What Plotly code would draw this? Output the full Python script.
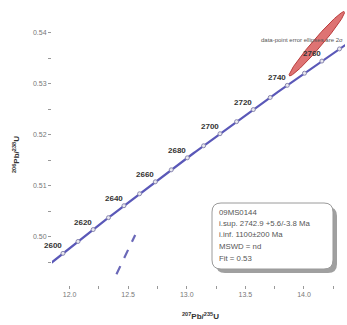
import numpy as np
import plotly.graph_objects as go

# decay constants (1/yr)
L235 = 9.8485e-10
L238 = 1.55125e-10

# concordia age ticks (Ma)
age_labels = [2600, 2620, 2640, 2660, 2680, 2700, 2720, 2740, 2760]
age_marks = [2600, 2610, 2620, 2630, 2640, 2650, 2660, 2670, 2680, 2690,
             2700, 2710, 2720, 2730, 2740, 2750, 2760, 2770]
curve_age_min, curve_age_max = 2585, 2780

# single analysis (2-sigma) error ellipse
ell_x, ell_y = 14.11, 0.5378
ell_sx, ell_sy = 0.237, 0.0063
ell_rho = 0.977

# dashed discordia segment
dash_x = [12.40, 12.56]
dash_y = [0.4927, 0.5004]

# sample summary
sample = "09MS0144"
upper_int = "i.sup. 2742.9 +5.6/-3.8 Ma"
lower_int = "i.inf. 1100±200 Ma"
mswd = "MSWD = nd"
fit = "Fit = 0.53"
note = "data-point error ellipses are 2σ"

x_range = [11.85, 14.35]
y_range = [0.4906, 0.5444]

def conc_x(t):
    return np.exp(L235 * np.asarray(t) * 1e6) - 1

def conc_y(t):
    return np.exp(L238 * np.asarray(t) * 1e6) - 1

t_curve = np.arange(curve_age_min, curve_age_max + 1, 1.0)

fig = go.Figure()

fig.add_trace(go.Scatter(x=conc_x(t_curve), y=conc_y(t_curve), mode="lines",
                         line=dict(color="#5a58b8", width=2.2),
                         hoverinfo="skip", showlegend=False))

fig.add_trace(go.Scatter(x=dash_x, y=dash_y, mode="lines",
                         line=dict(color="#6a68b8", width=2.2, dash="dash"),
                         hoverinfo="skip", showlegend=False))

th = np.linspace(0, 2 * np.pi, 200)
ex = ell_x + ell_sx * np.cos(th)
ey = ell_y + ell_sy * (ell_rho * np.cos(th) + np.sqrt(1 - ell_rho ** 2) * np.sin(th))
fig.add_trace(go.Scatter(x=ex, y=ey, mode="lines", fill="toself",
                         fillcolor="rgba(214,80,80,0.80)",
                         line=dict(color="#b83a3a", width=1),
                         hoverinfo="skip", showlegend=False))

fig.add_trace(go.Scatter(x=conc_x(age_marks), y=conc_y(age_marks), mode="markers",
                         marker=dict(symbol="circle", size=4, color="#e8e8f0",
                                     line=dict(color="#8a88b0", width=1)),
                         hoverinfo="skip", showlegend=False))

for a in age_labels:
    fig.add_annotation(x=float(conc_x(a)), y=float(conc_y(a)), text="<b>%d</b>" % a,
                       showarrow=False, xanchor="right", yanchor="bottom",
                       xshift=1, yshift=1,
                       font=dict(size=8, color="#333333", family="Liberation Sans"))

W, H = 347, 325
ML, MR, MT, MB = 52, 2, 10, 40
PW, PH = W - ML - MR, H - MT - MB

def pp(px, py):
    return (px - ML) / PW, (H - MB - py) / PH

def rounded_path(x0, y0, x1, y1, r):
    def P(px, py):
        a, b = pp(px, py)
        return "%.5f,%.5f" % (a, b)
    return ("M " + P(x0 + r, y0) + " L " + P(x1 - r, y0) + " Q " + P(x1, y0) + " " + P(x1, y0 + r) +
            " L " + P(x1, y1 - r) + " Q " + P(x1, y1) + " " + P(x1 - r, y1) +
            " L " + P(x0 + r, y1) + " Q " + P(x0, y1) + " " + P(x0, y1 - r) +
            " L " + P(x0, y0 + r) + " Q " + P(x0, y0) + " " + P(x0 + r, y0) + " Z")

shapes = [
    dict(type="path", xref="paper", yref="paper", path=rounded_path(216, 207, 337, 273, 9),
         fillcolor="#a0a0a0", line=dict(width=0), layer="above"),
    dict(type="path", xref="paper", yref="paper", path=rounded_path(212, 203, 333, 269, 9),
         fillcolor="white", line=dict(color="#9a9a9a", width=1), layer="above"),
]

box_lines = [sample, upper_int, lower_int, mswd, fit]
box_y = [212, 223, 235, 246, 258]
for txt, py in zip(box_lines, box_y):
    ax, ay = pp(217, py)
    fig.add_annotation(x=ax, y=ay, xref="paper", yref="paper", text=txt, showarrow=False,
                       xanchor="left", yanchor="middle",
                       font=dict(size=7.8, color="#555555", family="Liberation Sans"))

nx, ny = pp(345, 40)
fig.add_annotation(x=nx, y=ny, xref="paper", yref="paper", text=note, showarrow=False,
                   xanchor="right", yanchor="middle",
                   font=dict(size=6, color="#555555", family="Liberation Sans"))

tx, ty = pp(200, 316)
fig.add_annotation(x=tx, y=ty, xref="paper", yref="paper",
                   text="<b><sup>207</sup>Pb/<sup>235</sup>U</b>", showarrow=False,
                   xanchor="center", yanchor="middle",
                   font=dict(size=8, color="#333333", family="Liberation Sans"))
yx, yy = pp(16, 155)
fig.add_annotation(x=yx, y=yy, xref="paper", yref="paper",
                   text="<b><sup>206</sup>Pb/<sup>238</sup>U</b>", showarrow=False,
                   textangle=-90, xanchor="center", yanchor="middle",
                   font=dict(size=8, color="#333333", family="Liberation Sans"))

fig.update_layout(
    width=W, height=H, margin=dict(l=ML, r=MR, t=MT, b=MB),
    paper_bgcolor="white", plot_bgcolor="white",
    shapes=shapes, showlegend=False,
    font=dict(family="Liberation Sans", size=7, color="#777777"),
)
fig.update_xaxes(range=x_range, showgrid=False, zeroline=False, showline=False,
                 ticks="outside", ticklen=3, tickcolor="#999999", tickwidth=1,
                 dtick=0.5, tick0=12.0, tickformat=".1f",
                 tickfont=dict(size=7, color="#777777"),
                 minor=dict(dtick=0.25, ticks="outside", ticklen=3, tickcolor="#999999"))
fig.update_yaxes(range=y_range, showgrid=False, zeroline=False, showline=False,
                 ticks="outside", ticklen=3, tickcolor="#999999", tickwidth=1,
                 dtick=0.01, tick0=0.50, tickformat=".2f",
                 tickfont=dict(size=7, color="#777777"),
                 minor=dict(dtick=0.005, ticks="outside", ticklen=3, tickcolor="#999999"))

fig.write_html("out.html", config={"displayModeBar": False},
               post_script="document.body.style.margin='0';document.body.style.overflow='hidden';")
